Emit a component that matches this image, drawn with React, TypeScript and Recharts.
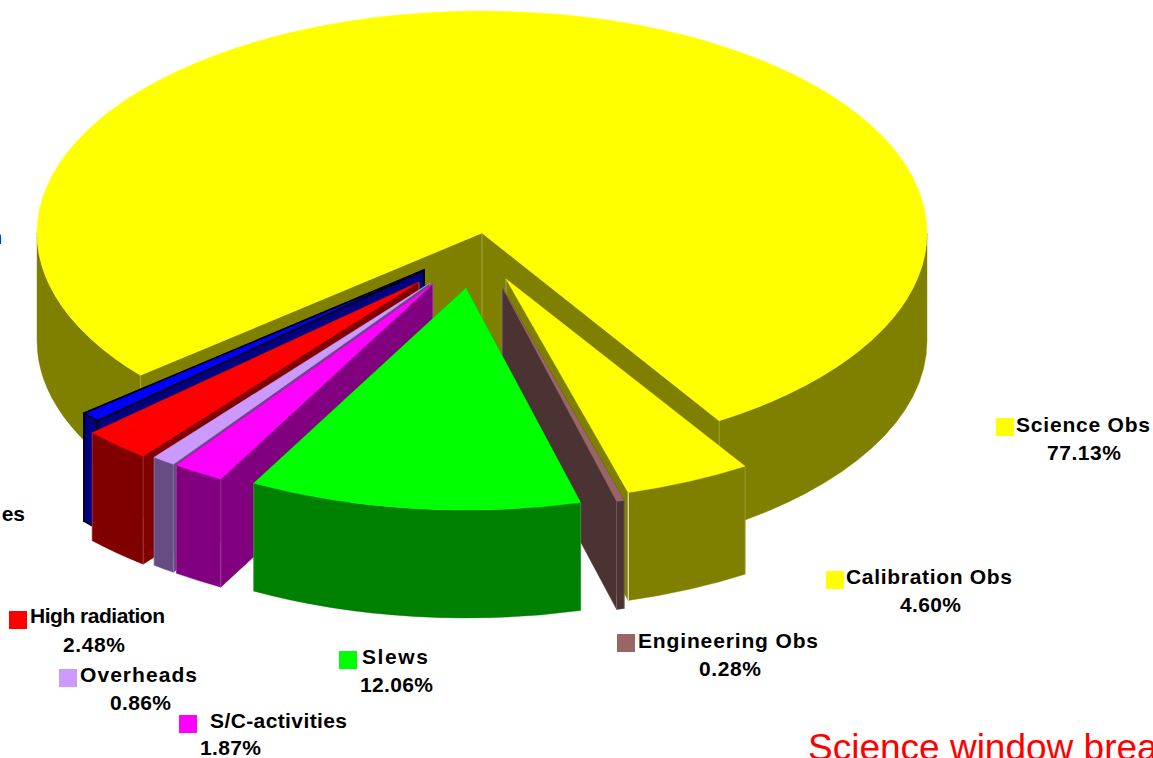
import React from "react";
import { PieChart, Pie } from "recharts";

// ---- data ----
const sliceNames = ["Science Obs", "es", "High radiation", "Overheads", "S/C-activities", "Slews", "Engineering Obs", "Calibration Obs"];
const sliceValues = [77.13, 0.72, 2.48, 0.86, 1.87, 12.06, 0.28, 4.6];
const topColors = ["#ffff00", "#0000ff", "#ff0000", "#cc99ff", "#ff00ff", "#00ff00", "#996666", "#ffff00"];
const sideColors = ["#808000", "#000080", "#800000", "#664c80", "#800080", "#008000", "#4c3333", "#808000"];
// how far each slice is pulled out of the pie
const explodeX = [0, -58, -63, -52, -49, -16, 20, 24];
const explodeY = [0, 37, 49, 50, 51, 55, 54, 46];
const paintOrder = ["Science Obs", "Calibration Obs", "Engineering Obs", "es", "High radiation", "Overheads", "S/C-activities", "Slews"];

// legend layout: name, swatch x, swatch y, text x, text end, baseline, percent x, percent end, percent baseline
const legendRows: [string, number, number, number, number, number, number, number, number][] = [
  ["Science Obs", 996, 418, 1016, 1150, 432, 1047, 1121, 460],
  ["Calibration Obs", 826, 571, 846, 1012, 584, 900, 961, 612],
  ["Engineering Obs", 617, 634, 638, 818, 648, 699, 761, 676],
  ["Slews", 339, 651, 362, 428, 664, 360, 433, 692],
  ["High radiation", 9, 611, 30, 165, 623, 63, 125, 652],
  ["Overheads", 59, 669, 80, 197, 682, 110, 171, 710],
  ["S/C-activities", 179, 715, 210, 347, 728, 200, 261, 755],
];

const slices = sliceNames.map((name, i) => ({ name, value: sliceValues[i] }));

const CX = 482;
const CY = 233;
const RX = 445;
const SQUASH = 222 / 445;
const DEPTH = 108;
const FONT = "'Liberation Sans', Arial, sans-serif";
const LOWER_HALVES = [[-180, 0], [180, 360]];

const sliceShape = (layer: string) => (props: any) => {
  const name = props.payload?.name ?? props.name;
  if (name !== layer) return <g />;
  const i = sliceNames.indexOf(name);
  const ax = props.cx + explodeX[i];
  const ay = props.cy + explodeY[i];
  const rx = props.outerRadius;
  const ry = rx * SQUASH;
  const s = Math.min(props.startAngle, props.endAngle);
  const e = Math.max(props.startAngle, props.endAngle);
  const at = (deg: number, d = 0) => {
    const r = (deg * Math.PI) / 180;
    return `${(ax + rx * Math.cos(r)).toFixed(2)} ${(ay - ry * Math.sin(r) + d).toFixed(2)}`;
  };
  const large = e - s > 180 ? 1 : 0;
  const side = sideColors[i];
  const isBlue = name === "es";
  const stroke = isBlue ? "#000000" : side;
  const sw = isBlue ? 1.5 : 0.4;
  const face = (deg: number) =>
    `M ${ax} ${ay} L ${at(deg)} L ${at(deg, DEPTH)} L ${ax} ${ay + DEPTH} Z`;
  // only the front of the rim shows, and it keeps straight sides at the pie's extremes
  const walls = LOWER_HALVES.map(([lo, hi]) => [Math.max(lo, s), Math.min(hi, e)])
    .filter(([a, b]) => b > a)
    .map(([a, b]) => `M ${at(a)} A ${rx} ${ry} 0 0 0 ${at(b)} L ${at(b, DEPTH)} A ${rx} ${ry} 0 0 1 ${at(a, DEPTH)} Z`);
  const top = `M ${ax} ${ay} L ${at(s)} A ${rx} ${ry} 0 ${large} 0 ${at(e)} Z`;
  const corner = (deg: number) => `M ${at(deg)} L ${at(deg, DEPTH)}`;
  const isCal = name === "Calibration Obs";
  return (
    <g>
      <path d={face(s)} fill={side} stroke={stroke} strokeWidth={sw} />
      <path d={face(e)} fill={side} stroke={stroke} strokeWidth={sw} />
      {walls.map((d) => (
        <path key={d} d={d} fill={side} stroke={stroke} strokeWidth={sw} />
      ))}
      {!isBlue && (
        <>
          <path d={corner(s)} stroke="#ffffff" strokeOpacity={isCal ? 0.9 : 0.2} strokeWidth={1} fill="none" />
          <path d={corner(e)} stroke="#ffffff" strokeOpacity={0.2} strokeWidth={1} fill="none" />
          <path d={`M ${ax} ${ay} L ${ax} ${ay + DEPTH}`} stroke="#ffffff" strokeOpacity={0.3} strokeWidth={1} fill="none" />
        </>
      )}
      <path d={top} fill={topColors[i]} stroke={isBlue ? "#000000" : topColors[i]} strokeWidth={isBlue ? 1.5 : 0.4} />
    </g>
  );
};

export default function App() {
  return (
    <div style={{ position: "absolute", left: 0, top: 0, width: 1153, height: 758, overflow: "hidden" }}>
      <PieChart width={1153} height={758} margin={{ top: 0, right: 0, bottom: 0, left: 0 }}>
        {paintOrder.map((layer) => {
          const shape = sliceShape(layer);
          const start = layer === "Science Obs" ? -57.8 : -57.5;
          return (
            <Pie
              key={layer}
              data={slices}
              dataKey="value"
              nameKey="name"
              cx={CX}
              cy={CY}
              innerRadius={0}
              outerRadius={RX}
              startAngle={start}
              endAngle={start + 360}
              paddingAngle={0}
              stroke="none"
              isAnimationActive={false}
              labelLine={false}
              label={false}
              shape={shape}
              activeShape={shape}
              inactiveShape={shape}
            />
          );
        })}
        {legendRows.map(([name, sx, sy, tx, tEnd, tBase, px, pEnd, pBase]) => {
          const i = sliceNames.indexOf(name);
          return (
            <g key={name} fontFamily={FONT} fontWeight="bold" fontSize={21} fill="#000000">
              <rect x={sx} y={sy} width={18} height={18} fill={topColors[i]} />
              <text x={tx} y={tBase} textLength={tEnd - tx} lengthAdjust="spacing">{name}</text>
              <text x={px} y={pBase} textLength={pEnd - px} lengthAdjust="spacing">{sliceValues[i].toFixed(2)}%</text>
            </g>
          );
        })}
        <text x={25} y={521} textAnchor="end" fontFamily={FONT} fontWeight="bold" fontSize={21} fill="#000000">es</text>
        <text x={2} y={244} textAnchor="end" fontFamily={FONT} fontWeight="bold" fontSize={21} fill="#0000c0">n</text>
        <text x={808} y={760} fontFamily={FONT} fontSize={37} fill="#ff0000">Science window breakdown</text>
      </PieChart>
    </div>
  );
}
